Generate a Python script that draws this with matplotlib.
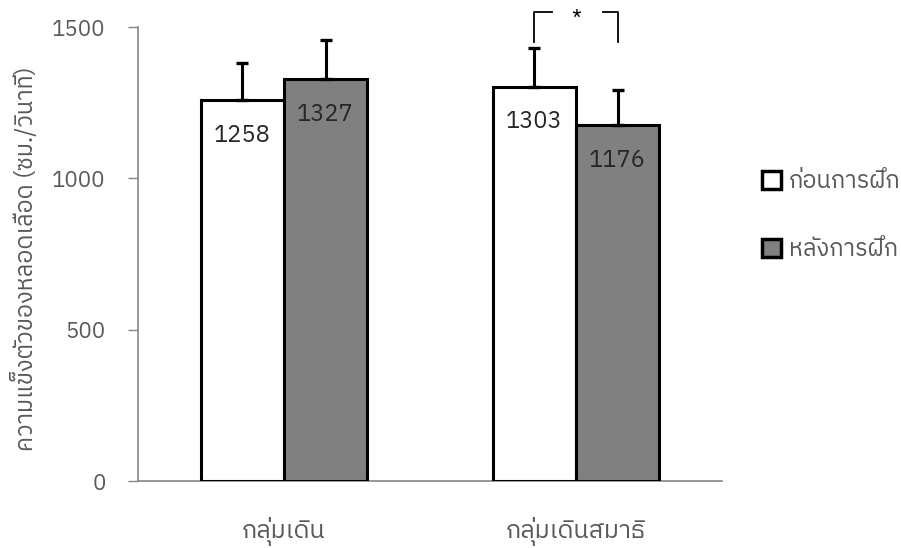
import matplotlib
matplotlib.use("Agg")
import matplotlib.pyplot as plt
from matplotlib import font_manager
from matplotlib.patches import Patch
import numpy as np

# Data
groups = ["กลุ่มเดิน", "กลุ่มเดินสมาธิ"]
series_labels = ["ก่อนการฝึก", "หลังการฝึก"]
before = [1258, 1303]
after = [1327, 1176]
before_err = [124, 128]
after_err = [129, 116]
y_ticks = [0, 500, 1000, 1500]
y_label = "ความแข็งตัวของหลอดเลือด (ซม./วินาที)"
sig_mark = "*"


def find_thai_font():
    """Return the family name of an installed font that covers Thai script."""
    try:
        from fontTools.ttLib import TTFont
    except Exception:
        return None
    preferred = []
    others = []
    for fe in font_manager.fontManager.ttflist:
        try:
            f = TTFont(fe.fname, fontNumber=0, lazy=True)
            cmap = f.getBestCmap() or {}
            if 0x0E01 in cmap and 0x0E48 in cmap:
                name = fe.name
                if "Sans" in name or "Loop" in name or "Thai" in name:
                    preferred.append(name)
                else:
                    others.append(name)
        except Exception:
            continue
    for lst in (preferred, others):
        if lst:
            return sorted(set(lst))[0]
    return None


thai = find_thai_font()
families = ([thai] if thai else []) + ["DejaVu Sans"]
plt.rcParams["font.family"] = families

TEXT_GREY = "#595959"
AXIS_GREY = "#868686"
BAR_GREY = "#808080"

fig = plt.figure(figsize=(9.01, 5.48), dpi=100)
ax = fig.add_axes([138 / 901, 1 - 481 / 548, (722 - 138) / 901, (481 - 27) / 548])

x = np.arange(len(groups))
w = 0.285
ax.bar(x - w / 2, before, w, color="white", edgecolor="black", linewidth=2.2,
       label=series_labels[0], zorder=3)
ax.bar(x + w / 2, after, w, color=BAR_GREY, edgecolor="black", linewidth=2.2,
       label=series_labels[1], zorder=3)

ax.errorbar(x - w / 2, before, yerr=[np.zeros(len(before)), before_err], fmt="none",
            ecolor="black", elinewidth=2.2, capsize=4, capthick=2.4, zorder=4)
ax.errorbar(x + w / 2, after, yerr=[np.zeros(len(after)), after_err], fmt="none",
            ecolor="black", elinewidth=2.2, capsize=4, capthick=2.4, zorder=4)

# value labels inside the bars
for xi, v in zip(x - w / 2, before):
    ax.text(xi, v - 78, f"{v}", ha="center", va="top", fontsize=17, color="#262626", zorder=5)
for xi, v in zip(x + w / 2, after):
    ax.text(xi, v - 78, f"{v}", ha="center", va="top", fontsize=17, color="#262626", zorder=5)

# significance bracket over the second group
xl, xr = x[1] - w / 2, x[1] + w / 2
y_low, y_top = 1451, 1550
ax.plot([xl, xl, xl + 0.06], [y_low, y_top, y_top], color="black", lw=1.3, clip_on=False)
ax.plot([xr - 0.05, xr, xr], [y_top, y_top, y_low], color="black", lw=1.3, clip_on=False)
ax.text(x[1], y_top - 26, sig_mark, ha="center", va="center", fontsize=16, color="black",
        clip_on=False)

ax.set_xlim(-0.5, 1.5)
ax.set_ylim(0, 1500)
ax.set_yticks(y_ticks)
ax.set_xticks(x)
ax.set_xticklabels(groups)
ax.tick_params(axis="y", length=7.2, width=1.0, color=AXIS_GREY, labelcolor=TEXT_GREY,
               labelsize=16, pad=16)
ax.tick_params(axis="x", length=0, labelcolor=TEXT_GREY, labelsize=18, pad=26)
for side in ("top", "right"):
    ax.spines[side].set_visible(False)
for side in ("left", "bottom"):
    ax.spines[side].set_color(AXIS_GREY)
    ax.spines[side].set_linewidth(1.2)
ax.spines["bottom"].set_zorder(2)

ax.set_ylabel(y_label, fontsize=17, color=TEXT_GREY)
ax.yaxis.set_label_coords(-0.172, 0.49)

handles = [Patch(facecolor="white", edgecolor="black", linewidth=2.5),
           Patch(facecolor=BAR_GREY, edgecolor="black", linewidth=2.5)]
leg = fig.legend(handles, series_labels, loc="upper left",
                 bbox_to_anchor=(762 / 901, 1 - 170 / 548), frameon=False,
                 fontsize=17, handlelength=0.8, handleheight=0.8, handletextpad=0.35,
                 labelspacing=1.9, borderaxespad=0, borderpad=0)
for t in leg.get_texts():
    t.set_color(TEXT_GREY)

fig.savefig("out.png", dpi=100)
